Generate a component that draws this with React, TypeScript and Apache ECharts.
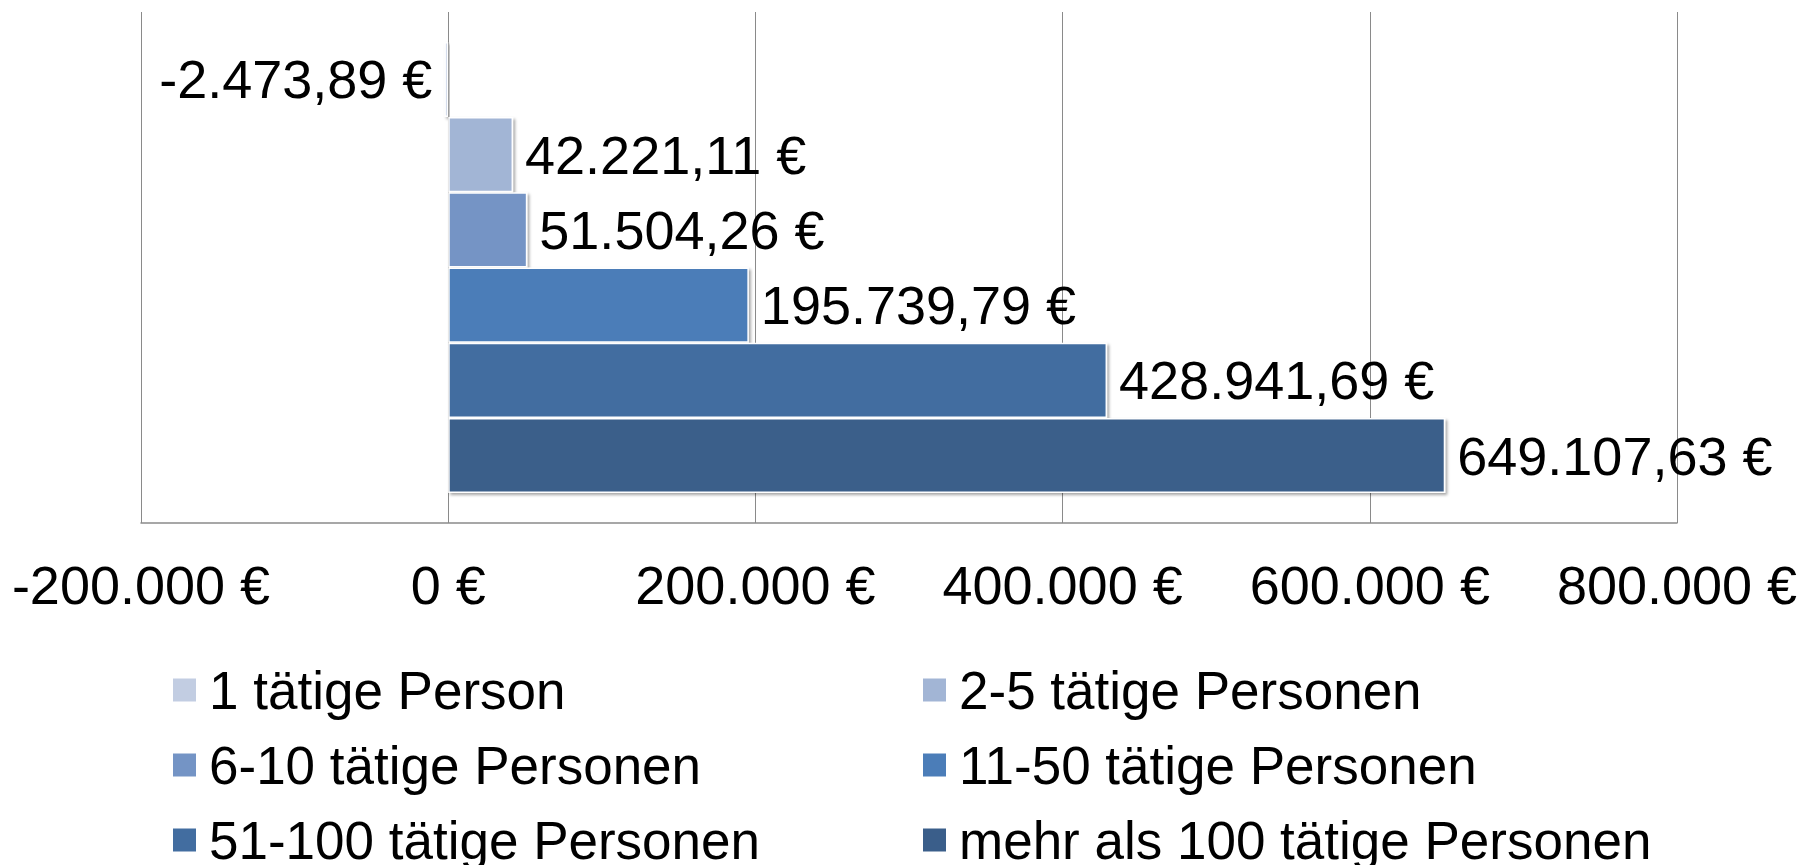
import React, { useEffect, useRef } from "react";
import * as echarts from "echarts";

const categories = ["Gesamt"];
const seriesNames = [
  "1 tätige Person",
  "2-5 tätige Personen",
  "6-10 tätige Personen",
  "11-50 tätige Personen",
  "51-100 tätige Personen",
  "mehr als 100 tätige Personen",
];
const seriesValues = [-2473.89, 42221.11, 51504.26, 195739.79, 428941.69, 649107.63];
const seriesColors = ["#C2CDE2", "#A2B5D5", "#7494C5", "#4B7DB8", "#426DA0", "#3A5E8A"];
const axisMin = -200000;
const axisMax = 800000;
const axisInterval = 200000;

const FONT = "'Liberation Sans', Arial, sans-serif";

function formatEuro(v: number, dec: number): string {
  const neg = v < 0;
  const fixed = Math.abs(v).toFixed(dec);
  const parts = fixed.split(".");
  const ip = parts[0].replace(/\B(?=(\d{3})+(?!\d))/g, ".");
  return (neg ? "-" : "") + ip + (parts[1] ? "," + parts[1] : "") + " €";
}

export default function App() {
  const ref = useRef<HTMLDivElement>(null);
  useEffect(() => {
    if (!ref.current) return;
    const chart = echarts.init(ref.current, undefined, { renderer: "svg" });
    const series = seriesNames.map((name, i) => ({
      name,
      type: "bar",
      data: [seriesValues[i]],
      barGap: "0%",
      barCategoryGap: "11.7%",
      itemStyle: {
        color: seriesColors[i],
        borderColor: "#ffffff",
        borderWidth: 1.5,
        shadowColor: "rgba(0,0,0,0.35)",
        shadowBlur: 3,
        shadowOffsetX: 2,
        shadowOffsetY: 2,
      },
      label: {
        show: true,
        position: seriesValues[i] < 0 ? "left" : "right",
        distance: 12,
        color: "#000",
        fontFamily: FONT,
        fontSize: 54,
        formatter: (p: any) => formatEuro(p.value, 2),
      },
    }));
    const legendText = {
      fontFamily: FONT,
      fontSize: 53,
      color: "#000",
      lineHeight: 54,
      padding: [0, 0, 0, 7],
    };
    const legendBase = {
      orient: "vertical",
      top: 663,
      height: 260,
      padding: 0,
      itemGap: 21,
      itemWidth: 25,
      itemHeight: 25,
      icon: "rect",
      textStyle: legendText,
    };
    chart.setOption({
      animation: false,
      backgroundColor: "#ffffff",
      grid: { left: 141, right: 133, top: 12, bottom: 342, containLabel: false },
      xAxis: {
        type: "value",
        min: axisMin,
        max: axisMax,
        interval: axisInterval,
        axisLine: { show: true, lineStyle: { color: "#8a8a8a", width: 1.5 } },
        axisTick: { show: false },
        splitLine: { show: true, lineStyle: { color: "#8a8a8a", width: 1 } },
        axisLabel: {
          margin: 35,
          color: "#000",
          fontFamily: FONT,
          fontSize: 54,
          formatter: (v: number) => formatEuro(v, 0),
        },
      },
      yAxis: {
        type: "category",
        data: categories,
        axisLine: { show: false },
        axisTick: { show: false },
        axisLabel: { show: false },
      },
      legend: [
        { ...legendBase, left: 171, data: [seriesNames[0], seriesNames[2], seriesNames[4]] },
        { ...legendBase, left: 921, data: [seriesNames[1], seriesNames[3], seriesNames[5]] },
      ],
      series,
    });
    return () => chart.dispose();
  }, []);
  return (
    <div
      ref={ref}
      style={{ position: "fixed", left: 0, top: 0, width: 1810, height: 865, background: "#fff" }}
    />
  );
}
